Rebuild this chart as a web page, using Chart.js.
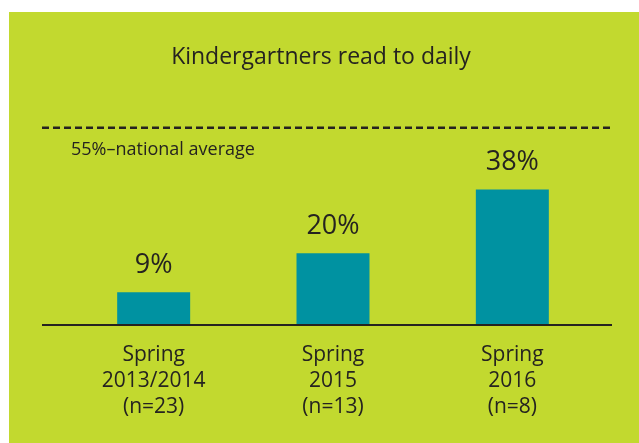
<!DOCTYPE html>
<html>
<head>
<meta charset="utf-8">
<script src="https://cdn.jsdelivr.net/npm/chart.js@4"></script>
<style>
  html, body { margin: 0; padding: 0; background: #fff; }
  #wrap { width: 639px; height: 443px; }
</style>
</head>
<body>
<div id="wrap"><canvas id="chart" width="639" height="443"></canvas></div>
<script>
// ---- data ----
const seasons = [
  ['Spring', '2013/2014', '(n=23)'],
  ['Spring', '2015', '(n=13)'],
  ['Spring', '2016', '(n=8)']
];
const readDaily = [9, 20, 38];
const nationalAverage = 55;
const averageLabel = '55%\u2013national average';
const chartTitle = 'Kindergartners read to daily';

// ---- style ----
const GREEN = '#c2d92f';
const TEAL = '#0092a1';
const INK = '#252320';

Chart.defaults.font.family = "'Open Sans', sans-serif";
Chart.defaults.color = INK;

// green panel behind everything
const panel = {
  id: 'panel',
  beforeDraw(chart) {
    const ctx = chart.ctx;
    ctx.save();
    ctx.fillStyle = '#fff';
    ctx.fillRect(0, 0, chart.width, chart.height);
    ctx.fillStyle = GREEN;
    ctx.fillRect(9, 12, chart.width - 9, chart.height - 12);
    ctx.restore();
  }
};

// title, baseline, dashed average line and value labels
const overlay = {
  id: 'overlay',
  afterDatasetsDraw(chart) {
    const { ctx, chartArea } = chart;
    const y = chart.scales.y;
    const x0 = chartArea.left - 22;
    const x1 = chartArea.right + 10;
    ctx.save();

    // title is centred on the green panel, not on the plot area
    ctx.fillStyle = INK;
    ctx.font = "23px 'Open Sans', sans-serif";
    ctx.textAlign = 'center';
    ctx.textBaseline = 'middle';
    ctx.fillText(chartTitle, (9 + chart.width) / 2 - 3, 57);

    const base = y.getPixelForValue(0);
    ctx.strokeStyle = INK;
    ctx.lineWidth = 2;
    ctx.beginPath();
    ctx.moveTo(x0, base + 1);
    ctx.lineTo(x1, base + 1);
    ctx.stroke();

    const avg = y.getPixelForValue(nationalAverage) - 1.5;
    ctx.lineWidth = 2.5;
    ctx.setLineDash([7, 4]);
    ctx.beginPath();
    ctx.moveTo(x0, avg);
    ctx.lineTo(x1, avg);
    ctx.stroke();
    ctx.setLineDash([]);

    ctx.font = "18px 'Open Sans', sans-serif";
    ctx.textAlign = 'left';
    ctx.fillText(averageLabel, x0 + 29, avg + 22);

    ctx.font = "27px 'Open Sans', sans-serif";
    ctx.textAlign = 'center';
    chart.getDatasetMeta(0).data.forEach((bar, i) => {
      ctx.fillText(readDaily[i] + '%', bar.x, bar.y - 27);
    });
    ctx.restore();
  }
};

new Chart(document.getElementById('chart'), {
  type: 'bar',
  data: {
    labels: seasons,
    datasets: [{
      data: readDaily,
      backgroundColor: TEAL,
      borderWidth: 0,
      categoryPercentage: 1,
      barPercentage: 0.407
    }]
  },
  options: {
    responsive: false,
    animation: false,
    layout: { padding: { left: 64, right: 37, top: 111.6, bottom: 0 } },
    plugins: {
      legend: { display: false },
      tooltip: { enabled: false },
      title: { display: false }
    },
    scales: {
      x: {
        grid: { display: false },
        border: { display: false },
        ticks: {
          color: INK,
          padding: 10,
          font: { size: 21, lineHeight: 1.24 }
        },
        afterFit(s) { s.height = 119; }
      },
      y: {
        display: false,
        min: 0,
        max: 60
      }
    }
  },
  plugins: [panel, overlay]
});
</script>
</body>
</html>
